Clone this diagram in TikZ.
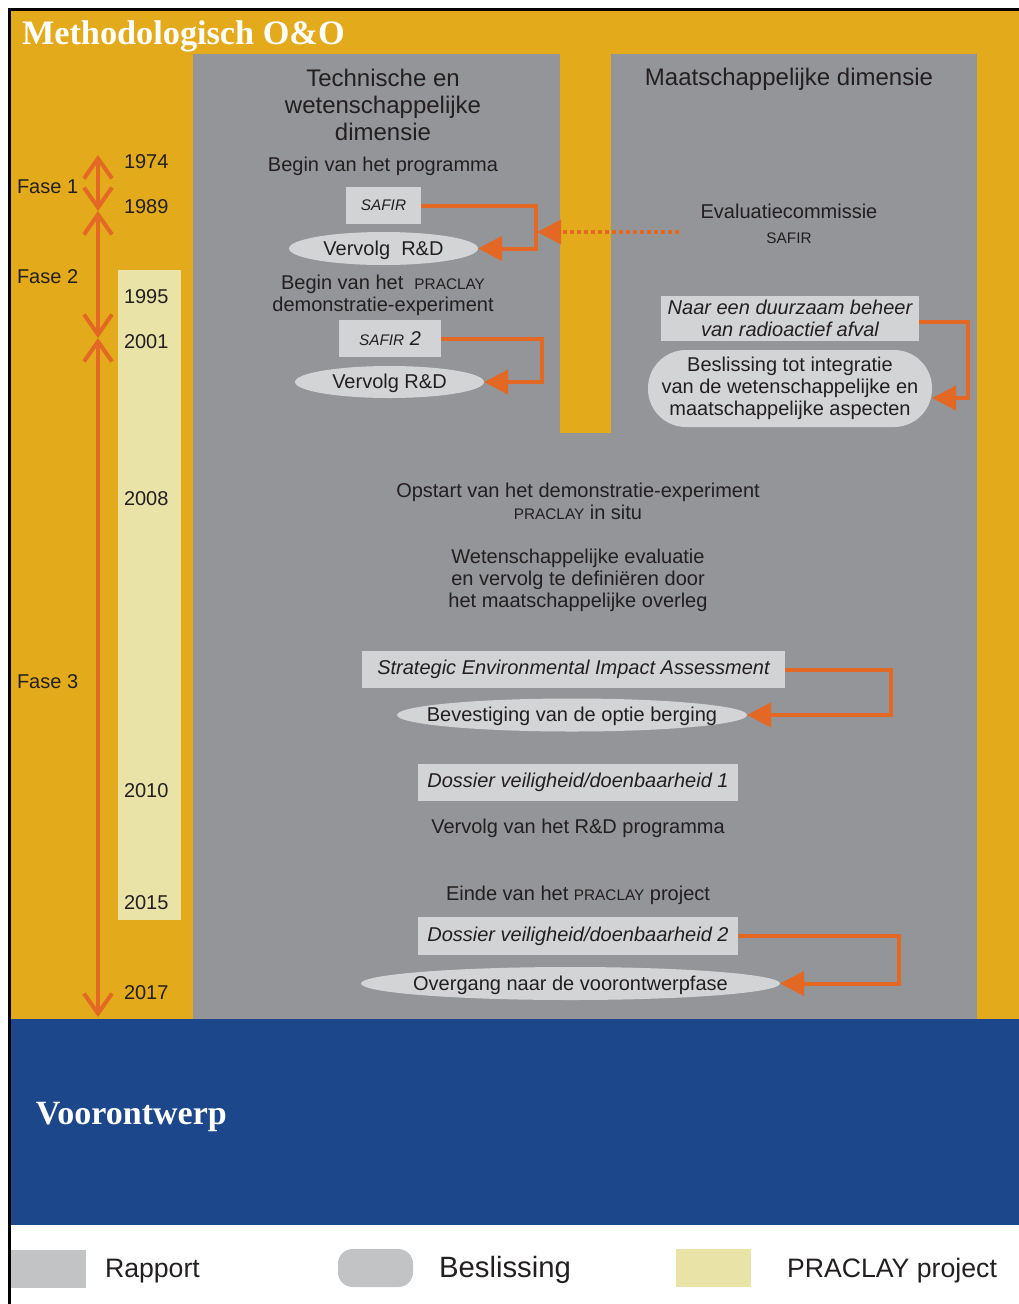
\documentclass[tikz,border=0pt]{standalone}
\usepackage{fontspec}
\setmainfont{Liberation Sans}
\newfontfamily\titlefont{Liberation Serif}
\usetikzlibrary{arrows.meta,shapes.geometric,calc}
\definecolor{ochre}{RGB}{227,171,27}
\definecolor{panel}{RGB}{147,149,152}
\definecolor{navy}{RGB}{28,71,138}
\definecolor{praclay}{RGB}{234,227,168}
\definecolor{rep}{RGB}{209,211,212}
\definecolor{dec}{RGB}{211,212,214}
\definecolor{legrep}{RGB}{194,195,197}
\definecolor{arr}{RGB}{226,104,36}
\definecolor{ink}{RGB}{35,31,32}
\newlength\pxu \setlength\pxu{0.75pt}
\newcommand\zw[1]{\makebox[0pt]{\raisebox{-5.2pt}[0pt][0pt]{#1}}}
\newcommand\smc[1]{{\fontsize{11.5}{13}\selectfont #1}}
\begin{document}
\begin{tikzpicture}[x=0.75pt,y=-0.75pt,
  every node/.style={text=ink, inner sep=0pt, outer sep=0pt},
  txt/.style={font=\fontsize{15}{16.5}\selectfont, align=center},
  head/.style={font=\fontsize{18}{20.25}\selectfont, align=center},
  yearlbl/.style={font=\fontsize{15}{18}\selectfont, anchor=base west},
  rbox/.style={fill=rep, font=\itshape\fontsize{15}{16.5}\selectfont, align=center},
  dbox/.style={fill=dec, ellipse, font=\fontsize{15}{16.5}\selectfont},
  legtxt/.style={font=\fontsize{20}{24}\selectfont, anchor=base west},
  conn/.style={draw=arr, line width=3pt, -{Triangle[length=18pt,width=18pt]}},
  dotconn/.style={draw=arr, line width=3pt, dash pattern=on 3pt off 2.25pt, -{Triangle[length=18pt,width=18pt]}},
  tl/.style={draw=arr, line width=3pt, {Straight Barb[length=15pt,width=21pt]}-{Straight Barb[length=15pt,width=21pt]}}
]
\useasboundingbox (0,0) rectangle (1019,1304);
\fill[white] (0,0) rectangle (1019,1304);
% frame
\fill[black] (8,8) rectangle (1019,11);
\fill[black] (8,8) rectangle (11,1304);
% background areas
\fill[ochre] (11,11) rectangle (1019,1019);
\fill[panel] (193,54) rectangle (977,1019);
\fill[ochre] (560,54) rectangle (611,433);
\fill[navy] (11,1019) rectangle (1019,1225);
\fill[praclay] (118,270) rectangle (181,920);

% titles
\node[anchor=base west, text=white, font=\titlefont\bfseries\fontsize{25.7}{28}\selectfont] (title) at (22,44) {Methodologisch O\&O};
\node[anchor=base west, text=white, font=\titlefont\bfseries\fontsize{25.5}{28}\selectfont] (voor) at (36,1124) {Voorontwerp};

% timeline
\coordinate (y74) at (98,155);
\coordinate (y89) at (98,211);
\coordinate (y01) at (98,338);
\coordinate (y17) at (98,1017);
\draw[tl] (y74) -- (y89);
\draw[tl] (y89) -- (y01);
\draw[tl] (y01) -- (y17);

\node[yearlbl] (f1) at (17,193) {Fase 1};
\node[yearlbl] (f2) at (17,283) {Fase 2};
\node[yearlbl] (f3) at (17,688) {Fase 3};
\node[yearlbl] (j1974) at (124,168) {1974};
\node[yearlbl] (j1989) at (124,213) {1989};
\node[yearlbl] (j1995) at (124,303) {1995};
\node[yearlbl] (j2001) at (124,348) {2001};
\node[yearlbl] (j2008) at (124,505) {2008};
\node[yearlbl] (j2010) at (124,797) {2010};
\node[yearlbl] (j2015) at (124,909) {2015};
\node[yearlbl] (j2017) at (124,999) {2017};

% left panel
\node[head] (tech) at (383,105) {Technische en\\wetenschappelijke\\dimensie};
\node[head, anchor=base] (maat) at (789,85) {Maatschappelijke dimensie};
\node[txt, anchor=base] (begin) at (383,171) {Begin van het programma};
\node[rbox, minimum width=75\pxu, minimum height=37\pxu] (safir1) at (383.5,205.5) {\smc{SAFIR}};
\node[dbox, minimum width=189\pxu, minimum height=33\pxu] (vrd1) at (383.5,248.5) {\zw{Vervolg\ \ R\&D}};
\node[txt] (beginpr) at (383,295) {Begin van het\ \ \smc{PRACLAY}\\demonstratie-experiment};
\node[rbox, minimum width=102\pxu, minimum height=37\pxu] (safir2) at (390,338.5) {\smc{SAFIR} 2};
\node[dbox, minimum width=189\pxu, minimum height=32\pxu] (vrd2) at (389.5,382) {\zw{Vervolg R\&D}};

\draw[conn] (safir1.east) -- ++(115,0) |- (vrd1.east);
\draw[conn] (safir2.east) -- ++(101,0) |- (vrd2.east);

% right panel
\node[txt] (eval) at (789,224) {Evaluatiecommissie\\[2pt]\smc{SAFIR}};
\coordinate (evtip) at (537,232);
\draw[dotconn, shorten <=16.5pt] (eval.west |- evtip) -- (evtip);
\node[rbox, minimum width=258\pxu, minimum height=45\pxu] (naar) at (790,318) {Naar een duurzaam beheer\\van radioactief afval};
\node[fill=dec, rounded corners=28.5pt, minimum width=284\pxu, minimum height=77\pxu, txt] (besl) at (790,388.5) {Beslissing tot integratie\\van de wetenschappelijke en\\maatschappelijke aspecten};
\draw[conn] ([yshift=-4\pxu]naar.east) -- ++(49,0) |- ([yshift=-9.5\pxu]besl.east);

% middle
\node[txt] (opstart) at (578,501) {Opstart van het demonstratie-experiment\\\smc{PRACLAY} in situ};
\node[txt] (wet) at (578,580) {Wetenschappelijke evaluatie\\en vervolg te definiëren door\\het maatschappelijke overleg};
\node[rbox, minimum width=423\pxu, minimum height=37\pxu] (seia) at (573.5,669.5) {Strategic Environmental Impact Assessment};
\node[dbox, minimum width=350\pxu, minimum height=33\pxu] (bev) at (572,715) {\zw{Bevestiging van de optie berging}};
\draw[conn] (seia.east) -- ++(106,0) |- (bev.east);
\node[rbox, minimum width=320\pxu, minimum height=37\pxu] (dos1) at (578,782.5) {Dossier veiligheid/doenbaarheid 1};
\node[txt, anchor=base] (vervolg) at (578,833) {Vervolg van het R\&D programma};
\node[txt, anchor=base] (einde) at (578,900) {Einde van het \smc{PRACLAY} project};
\node[rbox, minimum width=320\pxu, minimum height=38\pxu] (dos2) at (578,936) {Dossier veiligheid/doenbaarheid 2};
\node[dbox, minimum width=419\pxu, minimum height=33\pxu] (overg) at (570.5,983.5) {\zw{Overgang naar de voorontwerpfase}};
\draw[conn] (dos2.east) -- ++(161,0) |- (overg.east);

% legend
\node[fill=legrep, minimum width=75\pxu, minimum height=38\pxu] (legr) at (48.5,1269) {};
\node[legtxt] (legrt) at (105,1277) {Rapport};
\node[fill=legrep, rounded corners=11pt, minimum width=75\pxu, minimum height=38\pxu] (legb) at (375.5,1268) {};
\node[legtxt, font=\fontsize{22}{26}\selectfont] (legbt) at (439,1277) {Beslissing};
\node[fill=praclay, minimum width=75\pxu, minimum height=38\pxu] (legp) at (713.5,1268) {};
\node[legtxt] (legpt) at (787,1277) {PRACLAY project};
\end{tikzpicture}
\end{document}
